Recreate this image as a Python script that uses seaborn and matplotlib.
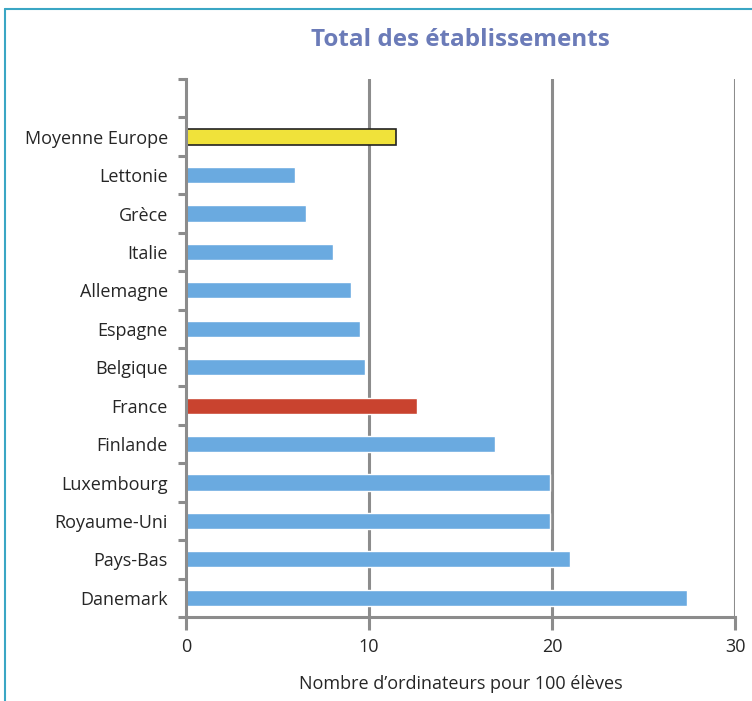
import matplotlib.pyplot as plt
import matplotlib.ticker as mticker
import matplotlib.lines as mlines
import seaborn as sns
import pandas as pd
import numpy as np

# Data (ordinateurs pour 100 eleves)
pays = ["", "Moyenne Europe", "Lettonie", "Grèce", "Italie", "Allemagne", "Espagne",
        "Belgique", "France", "Finlande", "Luxembourg", "Royaume-Uni", "Pays-Bas", "Danemark"]
valeurs = [0, 11.5, 5.95, 6.55, 8.05, 9.0, 9.5, 9.8, 12.6, 16.9, 19.9, 19.9, 21.0, 27.35]
couleurs = ["#6aaae0", "#f0e23a", "#6aaae0", "#6aaae0", "#6aaae0", "#6aaae0", "#6aaae0",
            "#6aaae0", "#c9432f", "#6aaae0", "#6aaae0", "#6aaae0", "#6aaae0", "#6aaae0"]
xticks = [0, 10, 20, 30]

sns.set_style("white")
plt.rcParams['font.family'] = ['Open Sans', 'DejaVu Sans']

df = pd.DataFrame({"pays": pays, "valeur": valeurs})

fig = plt.figure(figsize=(7.52, 7.01), dpi=100)
ax = fig.add_axes([0.2473, 0.1198, 0.9774 - 0.2473, 0.8873 - 0.1198])

gray = "#8c8c8c"
for x in xticks[1:]:
    ax.axvline(x, color=gray, lw=2.2, zorder=0)

sns.barplot(data=df, x="valeur", y="pays", hue="pays", palette=couleurs,
            width=0.42, legend=False, ax=ax, orient="h", saturation=1, zorder=2)

# black outline on the European average bar
ax.patches[1].set_edgecolor("#222222")
ax.patches[1].set_linewidth(1.2)

ax.set_xlim(0, 30)
ax.set_ylim(13.5, -0.5)
ax.set_xticks(xticks)
ax.set_xticklabels([str(t) for t in xticks], fontsize=13)
ax.tick_params(axis="y", which="major", left=True, length=0, labelsize=13, pad=13)
ax.yaxis.set_minor_locator(mticker.FixedLocator(np.arange(-0.5, 13.6, 1)))
ax.tick_params(axis="y", which="minor", left=True, length=6, width=2.2, color=gray, direction="out")
ax.tick_params(axis="x", bottom=True, length=9, width=2.2, color=gray, direction="out",
               labelsize=13, pad=6)

for s in ["top", "right"]:
    ax.spines[s].set_visible(False)
for s in ["left", "bottom"]:
    ax.spines[s].set_color(gray)
    ax.spines[s].set_linewidth(2.2)

ax.set_ylabel("")
ax.set_xlabel("Nombre d\u2019ordinateurs pour 100 élèves", fontsize=13, labelpad=14)
ax.set_title("Total des établissements", fontsize=17.5, fontweight="bold",
             color="#6b7bb8", pad=24)

# teal frame (top and left edges)
frame_c = "#3aa6c4"
fig.add_artist(mlines.Line2D([5 / 752, 1], [1 - 9 / 701, 1 - 9 / 701],
                             color=frame_c, lw=1.5, transform=fig.transFigure))
fig.add_artist(mlines.Line2D([5 / 752, 5 / 752], [0, 1 - 9 / 701],
                             color=frame_c, lw=1.5, transform=fig.transFigure))

plt.savefig("out.png", dpi=100)
